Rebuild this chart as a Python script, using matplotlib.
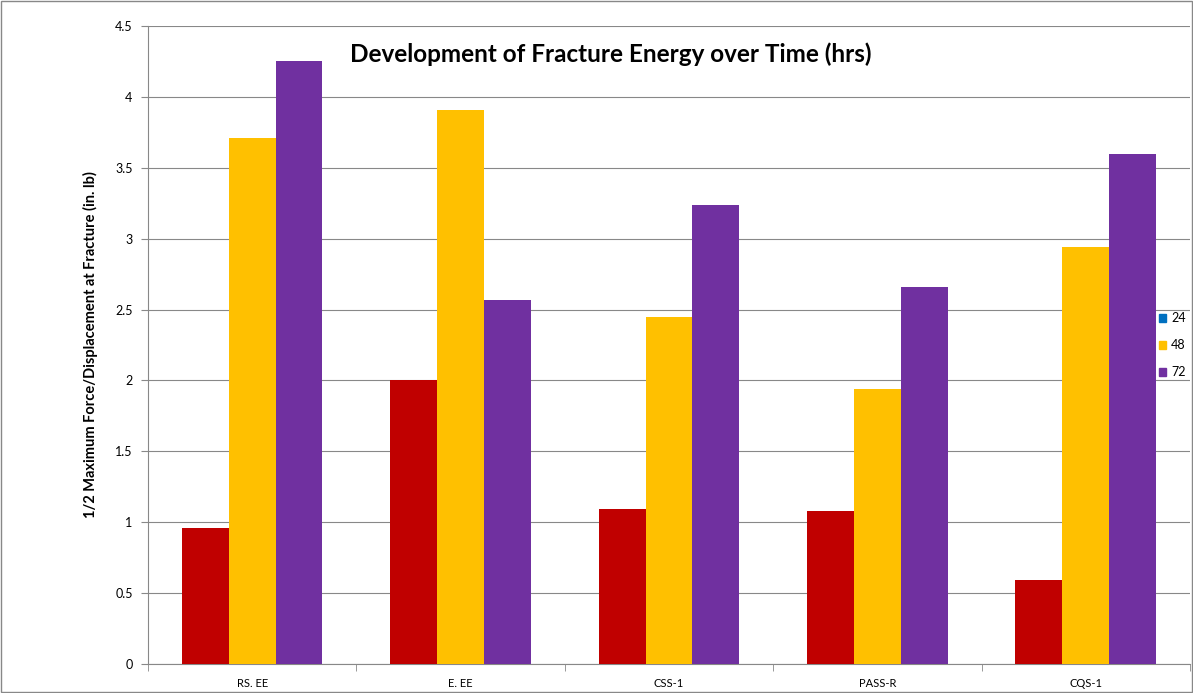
import matplotlib
matplotlib.use('Agg')
import matplotlib.pyplot as plt
from matplotlib.patches import Patch
import numpy as np

plt.rcParams['font.family'] = ['Lato', 'DejaVu Sans']

categories = ['RS. EE', 'E. EE', 'CSS-1', 'PASS-R', 'CQS-1']
hrs_24 = [0.96, 2.0, 1.09, 1.08, 0.59]
hrs_48 = [3.71, 3.91, 2.45, 1.94, 2.94]
hrs_72 = [4.25, 2.57, 3.24, 2.66, 3.60]
series_names = ['24', '48', '72']

red = '#C00000'
yellow = '#FFC000'
purple = '#7030A0'
blue = '#0070C0'

fig = plt.figure(figsize=(11.93, 6.93), dpi=100)
ax = fig.add_axes([0.124, 0.0418, 0.8735, 0.9207])

x = np.arange(len(categories))
w = 0.225
ax.bar(x - w, hrs_24, w, color=red, zorder=3)
ax.bar(x, hrs_48, w, color=yellow, zorder=3)
ax.bar(x + w, hrs_72, w, color=purple, zorder=3)

ax.set_xlim(-0.5, len(categories) - 0.5)
ax.set_ylim(0, 4.5)
ax.set_yticks(np.arange(0, 4.51, 0.5))
ax.set_yticklabels(['0', '0.5', '1', '1.5', '2', '2.5', '3', '3.5', '4', '4.5'])
ax.set_xticks(x)
ax.set_xticklabels(categories)
ax.set_xticks(np.arange(-0.5, len(categories), 1), minor=True)
ax.tick_params(axis='x', which='major', length=0, labelsize=8, pad=10)
ax.tick_params(axis='x', which='minor', length=5, color='#888888')
ax.tick_params(axis='y', length=5, color='#888888', labelsize=9, pad=6)
ax.grid(axis='y', color='#888888', linewidth=0.8, zorder=0)
for s in ['top', 'right']:
    ax.spines[s].set_visible(False)
for s in ['left', 'bottom']:
    ax.spines[s].set_color('#888888')

ax.set_ylabel('1/2 Maximum Force/Displacement at Fracture (in. lb)',
              fontsize=10.5, fontweight='bold', labelpad=12)
ax.text(0.444, 0.955, 'Development of Fracture Energy over Time (hrs)',
        transform=ax.transAxes, ha='center', va='center',
        fontsize=17.5, fontweight='bold')

handles = [Patch(color=blue), Patch(color=yellow), Patch(color=purple)]
leg = ax.legend(handles, series_names, loc='center left',
                bbox_to_anchor=(0.965, 0.5), frameon=False, fontsize=9,
                handlelength=0.6, handleheight=0.6, handletextpad=0.4,
                labelspacing=1.2, borderaxespad=0)

fig.patches.append(plt.Rectangle((0.001, 0.001), 0.998, 0.998, transform=fig.transFigure,
                                 fill=False, edgecolor='#888888', linewidth=1))
fig.savefig('out.png', dpi=100)
